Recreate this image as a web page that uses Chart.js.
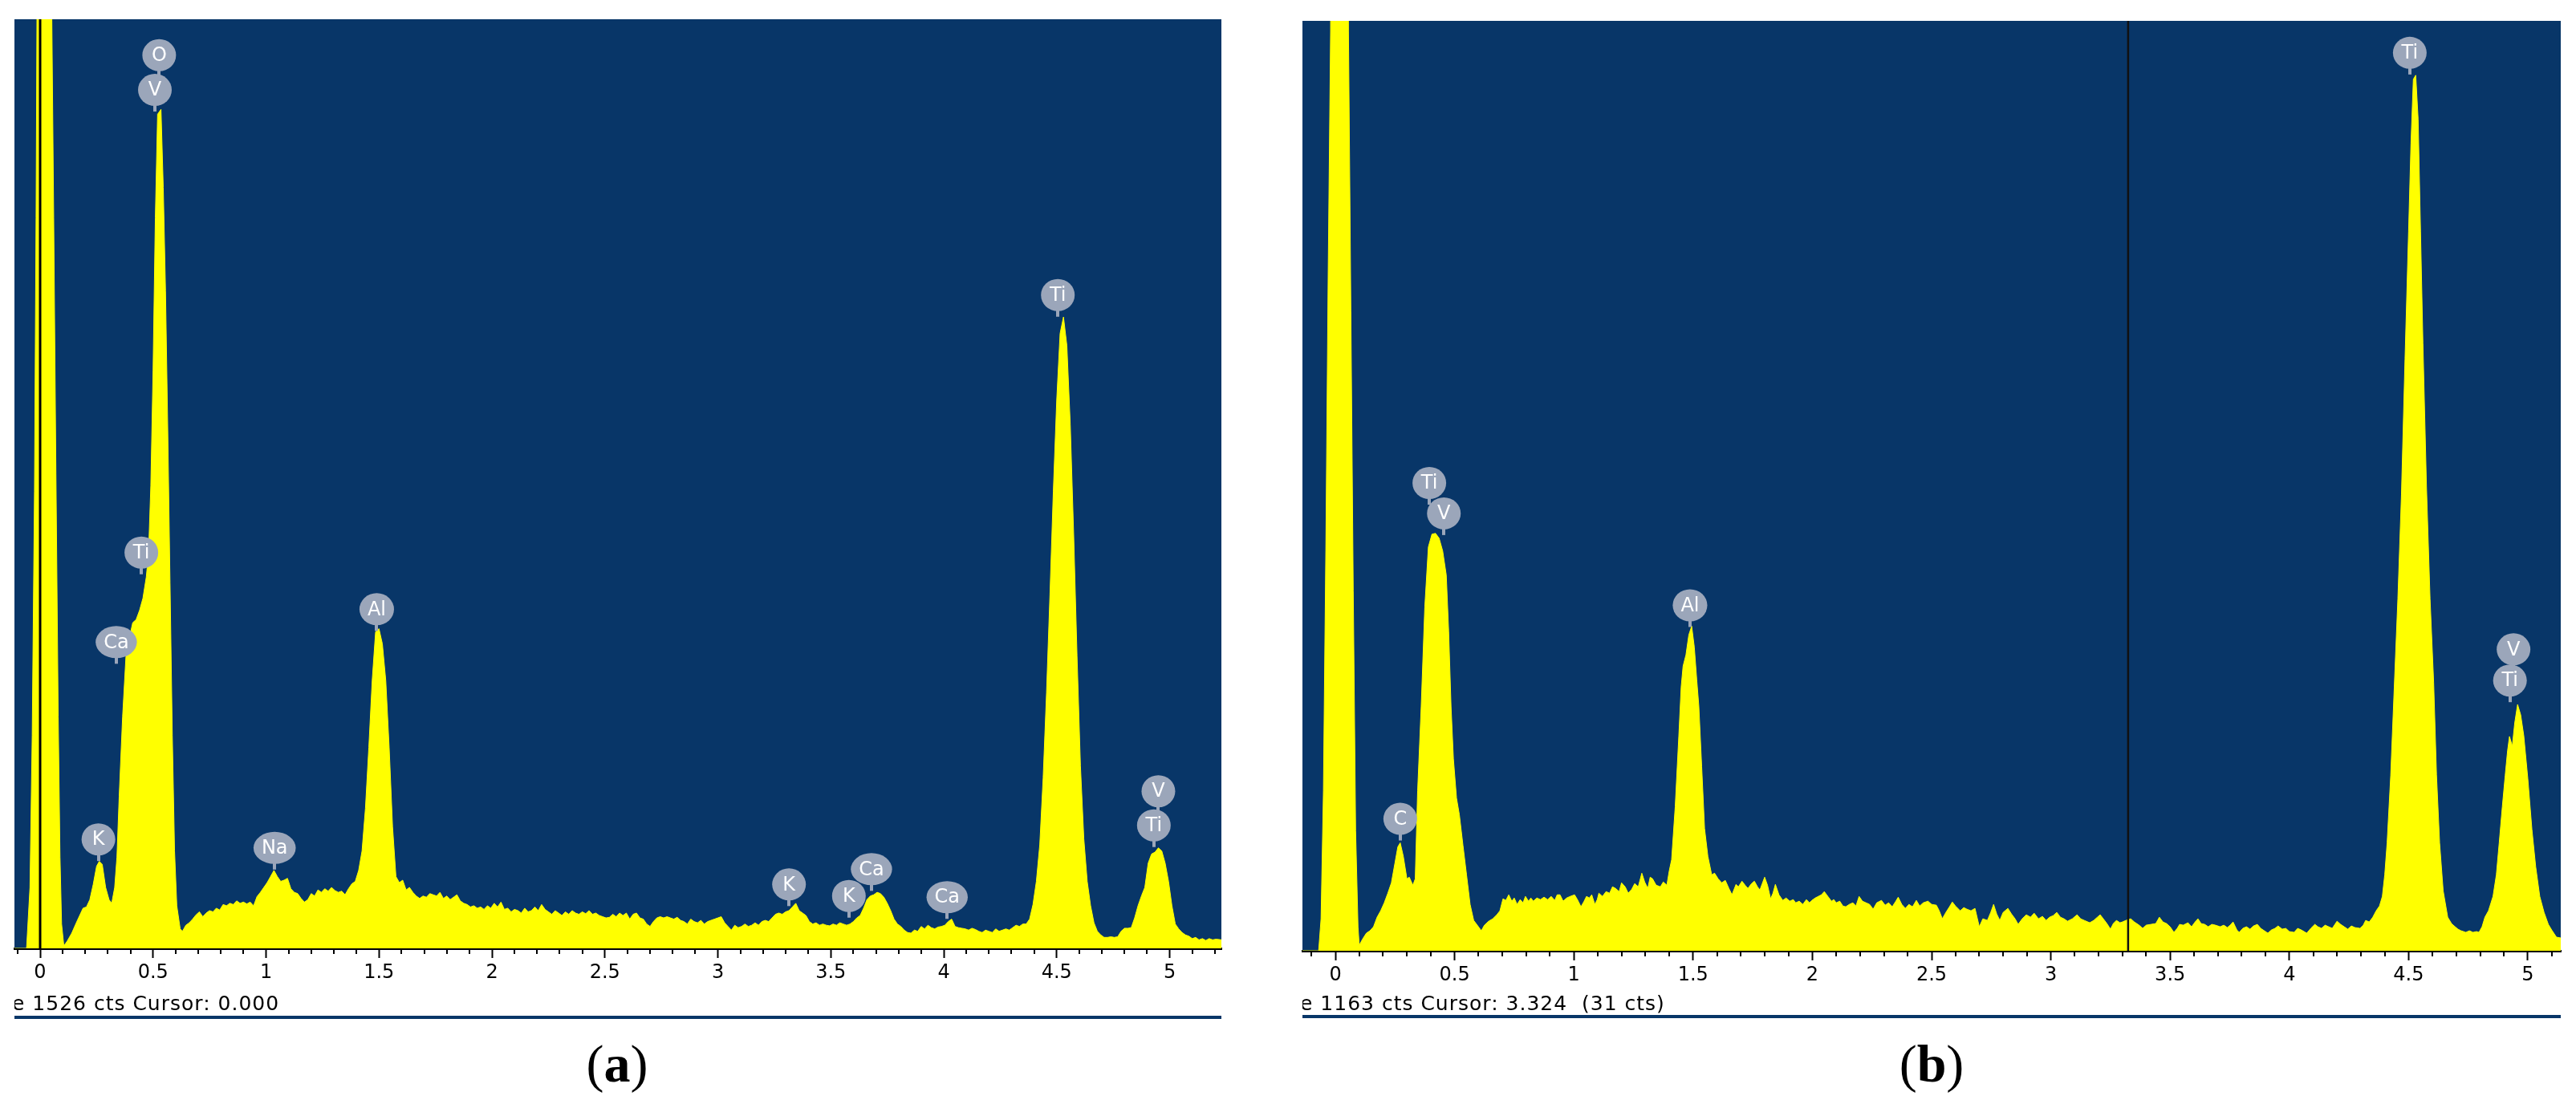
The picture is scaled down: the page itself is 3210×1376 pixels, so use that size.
<!DOCTYPE html>
<html>
<head>
<meta charset="utf-8">
<script src="https://cdn.jsdelivr.net/npm/chart.js@4.4.1/dist/chart.umd.min.js"></script>
<style>
  html, body { margin: 0; padding: 0; background: #ffffff; }
  body { width: 3210px; height: 1376px; position: relative; overflow: hidden; }
  canvas { position: absolute; top: 0; }
  #chartA { left: 0px; }
  #chartB { left: 1600px; }
</style>
</head>
<body>
<canvas id="chartA" width="1600" height="1376"></canvas>
<canvas id="chartB" width="1610" height="1376"></canvas>
<script>
// ---------------- DATA: panel (a) ----------------
const energyA = [
  -0.115,-0.06,-0.045,-0.035,-0.025,-0.018,-0.012,0,0.03,0.05,
  0.06,0.07,0.08,0.088,0.095,0.105,0.12,0.14,0.16,0.18,
  0.19,0.205,0.22,0.235,0.25,0.262,0.275,0.29,0.305,0.317,
  0.33,0.34,0.35,0.365,0.38,0.395,0.41,0.425,0.44,0.455,
  0.47,0.48,0.49,0.5,0.51,0.52,0.535,0.545,0.555,0.565,
  0.575,0.585,0.595,0.605,0.62,0.63,0.645,0.66,0.675,0.69,
  0.705,0.72,0.735,0.75,0.765,0.78,0.795,0.81,0.825,0.84,
  0.855,0.87,0.885,0.9,0.915,0.93,0.945,0.96,0.975,0.99,
  1.005,1.02,1.035,1.05,1.065,1.08,1.095,1.11,1.125,1.14,
  1.155,1.17,1.185,1.2,1.215,1.23,1.245,1.26,1.275,1.29,
  1.305,1.32,1.335,1.35,1.365,1.38,1.395,1.41,1.425,1.44,
  1.455,1.47,1.485,1.5,1.515,1.53,1.545,1.56,1.575,1.59,
  1.605,1.62,1.635,1.65,1.665,1.68,1.695,1.71,1.725,1.74,
  1.755,1.77,1.785,1.8,1.815,1.83,1.845,1.86,1.875,1.89,
  1.905,1.92,1.935,1.95,1.965,1.98,1.995,2.01,2.025,2.04,
  2.055,2.07,2.085,2.1,2.115,2.13,2.145,2.16,2.175,2.19,
  2.205,2.22,2.235,2.25,2.265,2.28,2.295,2.31,2.325,2.34,
  2.355,2.37,2.385,2.4,2.415,2.43,2.445,2.46,2.475,2.49,
  2.505,2.52,2.535,2.55,2.565,2.58,2.595,2.61,2.625,2.64,
  2.655,2.67,2.685,2.7,2.715,2.73,2.745,2.76,2.775,2.79,
  2.805,2.82,2.835,2.85,2.865,2.88,2.895,2.91,2.925,2.94,
  2.955,2.97,2.985,3,3.015,3.03,3.045,3.06,3.075,3.09,
  3.105,3.12,3.135,3.15,3.165,3.18,3.195,3.21,3.225,3.24,
  3.255,3.27,3.285,3.3,3.315,3.33,3.345,3.36,3.375,3.39,
  3.405,3.42,3.435,3.45,3.465,3.48,3.495,3.51,3.525,3.54,
  3.555,3.57,3.585,3.6,3.615,3.63,3.645,3.66,3.675,3.69,
  3.705,3.72,3.735,3.75,3.765,3.78,3.795,3.81,3.825,3.84,
  3.855,3.87,3.885,3.9,3.915,3.93,3.945,3.96,3.975,3.99,
  4.005,4.02,4.035,4.05,4.065,4.08,4.095,4.11,4.125,4.14,
  4.155,4.17,4.185,4.2,4.215,4.23,4.245,4.26,4.275,4.29,
  4.305,4.32,4.335,4.35,4.365,4.38,4.395,4.41,4.425,4.44,
  4.455,4.47,4.485,4.5,4.515,4.53,4.545,4.56,4.575,4.59,
  4.605,4.62,4.635,4.65,4.665,4.68,4.695,4.71,4.725,4.74,
  4.755,4.77,4.785,4.8,4.815,4.83,4.845,4.86,4.875,4.89,
  4.905,4.92,4.935,4.95,4.965,4.98,4.995,5.01,5.025,5.04,
  5.055,5.07,5.085,5.1,5.115,5.13,5.145,5.16,5.175,5.19,
  5.205,5.23
];
const countsA = [
  0,0,100,350,750,1200,1700,3000,3000,1600,
  1200,780,380,150,40,4,12,25,42,58,
  66,68,80,105,135,143,138,100,80,74,
  100,150,250,380,480,510,535,540,555,575,
  610,650,760,950,1200,1370,1378,1250,1080,850,
  600,350,160,70,32,28,38,42,48,55,
  60,52,58,62,60,66,63,72,70,74,
  72,78,74,76,73,76,70,85,92,100,
  108,118,128,118,110,112,115,98,92,90,
  82,76,80,90,86,96,92,98,94,100,
  95,92,94,88,98,106,110,128,160,230,
  330,440,520,525,500,440,330,200,118,108,
  112,96,100,92,86,82,86,84,90,88,
  86,92,82,86,80,84,88,78,74,72,
  68,70,66,68,64,70,66,74,68,76,
  64,66,60,64,62,58,66,60,62,68,
  62,72,64,60,56,62,58,54,60,56,
  62,58,56,60,57,62,56,58,54,52,
  50,51,56,52,58,54,58,48,56,58,
  50,48,40,36,44,50,52,50,52,50,
  48,51,46,44,40,48,44,42,46,40,
  44,46,48,50,52,42,36,30,38,34,
  36,40,36,38,42,38,44,46,44,50,
  56,58,56,60,62,68,74,62,58,54,
  44,40,42,38,40,38,37,40,38,42,
  40,38,40,44,50,54,66,80,86,88,
  92,90,84,74,62,48,40,36,30,26,
  25,30,28,36,32,38,34,32,35,36,
  38,44,48,36,34,33,32,30,33,31,
  28,26,30,28,26,32,28,30,32,30,
  34,38,36,40,40,48,72,110,170,280,
  420,580,750,900,1010,1037,990,860,680,480,
  300,180,110,70,42,28,22,18,18,19,
  18,19,28,33,33,34,50,70,86,100,
  140,155,158,165,160,140,110,70,40,32,
  26,22,20,16,18,14,16,13,16,14,
  15,14
];
const peakNamesA  = ['O', 'V', 'Ti', 'Ca', 'K', 'Na', 'Al', 'K', 'K', 'Ca', 'Ca', 'Ti', 'Ti', 'V'];
const peakEnergyA = [0.527, 0.508, 0.448, 0.337, 0.258, 1.038, 1.49, 3.315, 3.58, 3.68, 4.015, 4.505, 4.93, 4.95];
const peakLevelA  = [1467, 1410, 650, 503, 179, 165, 557, 105, 86, 130, 84, 1073, 202, 258];
const fullScaleA = 1526;
const cursorA = 0.000;

// ---------------- DATA: panel (b) ----------------
const energyB = [
  -0.138,-0.07,-0.06,-0.05,-0.04,-0.03,-0.02,-0.01,0.02,0.045,
  0.055,0.065,0.075,0.085,0.095,0.1,0.115,0.13,0.145,0.16,
  0.175,0.19,0.205,0.22,0.235,0.25,0.262,0.272,0.285,0.3,
  0.31,0.325,0.335,0.345,0.36,0.375,0.39,0.405,0.42,0.435,
  0.45,0.465,0.475,0.485,0.495,0.508,0.52,0.535,0.55,0.565,
  0.58,0.595,0.612,0.625,0.643,0.66,0.677,0.69,0.703,0.715,
  0.727,0.74,0.75,0.762,0.775,0.787,0.797,0.81,0.82,0.83,
  0.845,0.86,0.875,0.89,0.905,0.92,0.93,0.942,0.955,0.97,
  0.985,1.003,1.015,1.03,1.043,1.053,1.065,1.075,1.088,1.098,
  1.105,1.12,1.135,1.15,1.162,1.175,1.19,1.2,1.215,1.228,
  1.243,1.255,1.27,1.285,1.297,1.31,1.32,1.33,1.345,1.363,
  1.375,1.39,1.4,1.41,1.425,1.44,1.45,1.458,1.47,1.482,
  1.494,1.505,1.515,1.524,1.536,1.548,1.562,1.578,1.59,1.605,
  1.62,1.635,1.65,1.663,1.68,1.69,1.705,1.718,1.73,1.745,
  1.757,1.77,1.78,1.79,1.8,1.812,1.825,1.835,1.845,1.86,
  1.876,1.89,1.905,1.92,1.93,1.945,1.96,1.975,1.988,1.998,
  2.012,2.025,2.038,2.05,2.065,2.08,2.09,2.1,2.115,2.128,
  2.14,2.155,2.17,2.183,2.196,2.21,2.225,2.24,2.255,2.27,
  2.29,2.305,2.32,2.335,2.35,2.36,2.375,2.39,2.405,2.42,
  2.436,2.45,2.465,2.485,2.5,2.52,2.532,2.545,2.56,2.575,
  2.587,2.6,2.62,2.635,2.648,2.665,2.682,2.7,2.715,2.734,
  2.748,2.76,2.773,2.786,2.8,2.82,2.835,2.85,2.863,2.88,
  2.897,2.915,2.93,2.948,2.965,2.98,2.995,3.01,3.025,3.04,
  3.055,3.07,3.09,3.11,3.125,3.14,3.163,3.18,3.195,3.207,
  3.22,3.235,3.25,3.262,3.275,3.29,3.3,3.315,3.335,3.35,
  3.37,3.385,3.4,3.42,3.44,3.455,3.47,3.485,3.5,3.516,
  3.53,3.54,3.555,3.575,3.59,3.605,3.617,3.63,3.645,3.66,
  3.675,3.69,3.71,3.725,3.74,3.752,3.764,3.78,3.79,3.805,
  3.82,3.835,3.85,3.866,3.88,3.895,3.91,3.925,3.94,3.953,
  3.97,3.985,4,4.02,4.035,4.05,4.073,4.09,4.107,4.12,
  4.135,4.15,4.165,4.18,4.2,4.215,4.23,4.245,4.26,4.275,
  4.296,4.31,4.32,4.335,4.35,4.364,4.378,4.39,4.4,4.41,
  4.425,4.44,4.455,4.47,4.485,4.5,4.51,4.52,4.53,4.54,
  4.55,4.56,4.575,4.59,4.605,4.617,4.63,4.645,4.664,4.68,
  4.695,4.707,4.72,4.74,4.755,4.77,4.785,4.795,4.808,4.82,
  4.835,4.854,4.868,4.88,4.893,4.905,4.915,4.923,4.935,4.945,
  4.957,4.97,4.983,5,5.017,5.033,5.05,5.068,5.086,5.1,
  5.12,5.138
];
const countsB = [
  0,0,40,200,500,850,1150,2500,4000,2500,
  1150,800,450,150,30,7,15,22,25,30,
  42,50,60,72,85,110,130,135,118,90,
  92,82,90,200,306,430,505,521,522,516,
  500,470,400,306,240,191,170,132,95,58,
  38,32,25,32,37,40,45,50,65,63,
  70,62,66,58,64,60,68,62,66,62,
  66,64,67,64,68,63,70,70,62,66,
  68,70,64,55,62,68,66,70,58,64,
  72,68,74,72,80,78,74,85,80,72,
  77,84,80,97,86,78,92,90,82,80,
  86,82,100,114,180,268,330,356,370,395,
  406,380,340,306,230,153,118,95,97,90,
  85,88,78,70,83,80,87,82,78,84,
  87,80,76,84,92,82,65,72,83,70,
  63,66,62,64,60,62,58,64,60,63,
  66,68,70,74,68,62,64,60,62,56,
  55,58,60,56,68,62,60,58,52,60,
  63,57,60,55,62,67,58,53,58,55,
  63,56,60,62,58,57,50,40,48,55,
  61,56,50,54,52,50,53,30,40,38,
  48,58,46,38,48,53,46,40,33,40,
  45,42,47,40,43,38,42,44,48,42,
  40,37,40,45,40,38,35,38,42,45,
  40,34,27,34,38,35,36,38,40,36,
  32,28,32,33,34,42,36,34,30,23,
  28,33,32,35,30,36,40,34,33,30,
  33,32,30,32,29,32,36,26,23,28,
  30,27,31,33,28,25,22,26,28,31,
  27,28,24,23,28,26,22,28,33,30,
  28,32,30,28,37,33,30,27,31,29,
  28,32,38,36,42,50,56,68,95,135,
  219,330,440,570,740,900,1010,1090,1095,1040,
  900,760,580,440,336,220,135,75,42,34,
  30,27,25,23,25,23,24,23,30,42,
  50,68,95,135,180,219,250,268,256,285,
  308,295,269,215,152,105,68,48,33,26,
  17,16
];
const peakNamesB  = ['Ti', 'V', 'C', 'Al', 'Ti', 'V', 'Ti'];
const peakEnergyB = [0.394, 0.455, 0.272, 1.487, 4.505, 4.94, 4.925];
const peakLevelB  = [585, 547, 165, 432, 1123, 377, 338];
const fullScaleB = 1163;
const cursorB = 3.324;
const cursorCountsB = 31;

// tick spacing (keV)
const minorStep = 0.1;
const majorStep = 0.5;

// ---------------- STYLE ----------------
const NAVY = '#083668';
const YELLOW = '#FFFF00';
const LABEL_FILL = '#9BA6BA';
const TICK_FONT = '"DejaVu Sans", sans-serif';

function isMajor(v) {
  const r = v / majorStep;
  return Math.abs(r - Math.round(r)) < 1e-6;
}
function fmtTick(v) {
  const r = Math.round(v * 10) / 10;
  return String(r);
}

function drawPeakLabel(ctx, x, y, text) {
  ctx.font = '24px ' + TICK_FONT;
  const tw = ctx.measureText(text).width;
  const rx = Math.max(21, tw / 2 + 10), ry = 20;
  ctx.fillStyle = LABEL_FILL;
  ctx.fillRect(Math.round(x) - 2, y + ry - 3, 4, 10);
  ctx.beginPath();
  ctx.ellipse(x, y, rx, ry, 0, 0, Math.PI * 2);
  ctx.fill();
  ctx.fillStyle = '#ffffff';
  ctx.textAlign = 'center';
  ctx.textBaseline = 'middle';
  ctx.fillText(text, x, y + 1);
}

function makePlugin(conf) {
  return {
    id: 'edsDecor',
    beforeDatasetsDraw(chart) {
      const { ctx, chartArea: a } = chart;
      ctx.save();
      ctx.fillStyle = NAVY;
      ctx.fillRect(a.left, a.top, a.right - a.left, a.bottom - a.top);
      ctx.restore();
    },
    afterDatasetsDraw(chart) {
      const { ctx, chartArea: a } = chart;
      const xs = chart.scales.x, ys = chart.scales.y;
      ctx.save();
      ctx.beginPath();
      ctx.rect(a.left, a.top, a.right - a.left, a.bottom - a.top);
      ctx.clip();
      const cx = xs.getPixelForValue(conf.cursor);
      ctx.strokeStyle = conf.cursorColor;
      ctx.lineWidth = conf.cursorWidth;
      ctx.beginPath();
      ctx.moveTo(cx, a.top);
      ctx.lineTo(cx, a.bottom);
      ctx.stroke();
      ctx.restore();
      ctx.save();
      conf.names.forEach((t, i) => {
        drawPeakLabel(ctx, xs.getPixelForValue(conf.energies[i]), ys.getPixelForValue(conf.levels[i]), t);
      });
      ctx.restore();
    },
    afterDraw(chart) {
      const { ctx, chartArea: a } = chart;
      const xs = chart.scales.x;
      ctx.save();
      // minor ticks
      ctx.strokeStyle = '#000';
      ctx.lineWidth = 2;
      xs.ticks.forEach(t => {
        if (isMajor(t.value)) return;
        const px = Math.round(xs.getPixelForValue(t.value)) + 0.0;
        ctx.beginPath();
        ctx.moveTo(px, xs.top);
        ctx.lineTo(px, xs.top + 7);
        ctx.stroke();
      });
      // status line text (left part clipped like the original window)
      ctx.save();
      ctx.beginPath();
      ctx.rect(a.left, a.bottom + 40, a.right - a.left, 60);
      ctx.clip();
      ctx.font = '25px ' + TICK_FONT;
      ctx.letterSpacing = '1px';
      ctx.fillStyle = '#000';
      ctx.textAlign = 'left';
      ctx.textBaseline = 'alphabetic';
      const hidden = ctx.measureText('Full Scal').width;
      ctx.fillText(conf.status, a.left - 3 - hidden, conf.statusY);
      ctx.restore();
      // blue rule
      ctx.fillStyle = NAVY;
      ctx.fillRect(a.left, conf.ruleY - 2, a.right - a.left, 4);
      // panel letter
      ctx.fillStyle = '#000';
      ctx.textBaseline = 'alphabetic';
      ctx.textAlign = 'left';
      ctx.letterSpacing = '0px';
      const fReg = '66px "Liberation Serif", "Times New Roman", serif';
      const fBold = 'bold 66px "Liberation Serif", "Times New Roman", serif';
      ctx.font = fReg; const w1 = ctx.measureText('(').width; const w3 = ctx.measureText(')').width;
      ctx.font = fBold; const w2 = ctx.measureText(conf.letter).width;
      let lx = conf.letterX - (w1 + w2 + w3) / 2;
      ctx.font = fReg; ctx.fillText('(', lx, conf.letterY); lx += w1;
      ctx.font = fBold; ctx.fillText(conf.letter, lx, conf.letterY); lx += w2;
      ctx.font = fReg; ctx.fillText(')', lx, conf.letterY);
      ctx.restore();
    }
  };
}

function buildChart(canvasId, energies, counts, xMin, xMax, fullScale, pad, axisH, conf) {
  const pts = energies.map((e, i) => ({ x: e, y: counts[i] }));
  return new Chart(document.getElementById(canvasId), {
    type: 'line',
    data: {
      datasets: [{
        data: pts,
        borderColor: YELLOW,
        backgroundColor: YELLOW,
        borderWidth: 1,
        pointRadius: 0,
        tension: 0,
        fill: 'origin',
        clip: 0
      }]
    },
    options: {
      responsive: false,
      animation: false,
      devicePixelRatio: 1,
      layout: { padding: pad },
      plugins: { legend: { display: false }, tooltip: { enabled: false } },
      scales: {
        x: {
          type: 'linear',
          min: xMin,
          max: xMax,
          afterFit: (s) => { s.height = axisH; },
          border: { display: true, color: '#000', width: 3 },
          grid: {
            display: true,
            drawOnChartArea: false,
            drawTicks: true,
            tickLength: 12,
            tickWidth: 2,
            tickColor: (c) => (c.tick && isMajor(c.tick.value)) ? '#000' : 'rgba(0,0,0,0)'
          },
          ticks: {
            stepSize: minorStep,
            includeBounds: false,
            autoSkip: false,
            maxRotation: 0,
            minRotation: 0,
            maxTicksLimit: 200,
            padding: 4,
            color: '#000',
            font: { family: TICK_FONT, size: 24 },
            callback: (v) => isMajor(v) ? fmtTick(v) : ''
          }
        },
        y: {
          display: false,
          min: 0,
          max: fullScale
        }
      }
    },
    plugins: [makePlugin(conf)]
  });
}

buildChart('chartA', energyA, countsA, -0.1137, 5.229, fullScaleA,
  { left: 18, top: 24, right: 78, bottom: 0 }, 1376 - 1182,
  {
    cursor: cursorA, cursorColor: '#000000', cursorWidth: 3,
    names: peakNamesA, energies: peakEnergyA, levels: peakLevelA,
    status: 'Full Scale ' + fullScaleA + ' cts Cursor: ' + cursorA.toFixed(3),
    statusY: 1259, ruleY: 1268,
    letter: 'a', letterX: 769, letterY: 1348
  });

buildChart('chartB', energyB, countsB, -0.138, 5.138, fullScaleB,
  { left: 23, top: 26, right: 19, bottom: 0 }, 1376 - 1185,
  {
    cursor: cursorB, cursorColor: '#111111', cursorWidth: 2.5,
    names: peakNamesB, energies: peakEnergyB, levels: peakLevelB,
    status: 'Full Scale ' + fullScaleB + ' cts Cursor: ' + cursorB.toFixed(3) + '  (' + cursorCountsB + ' cts)',
    statusY: 1259, ruleY: 1267,
    letter: 'b', letterX: 807, letterY: 1348
  });
</script>
</body>
</html>
